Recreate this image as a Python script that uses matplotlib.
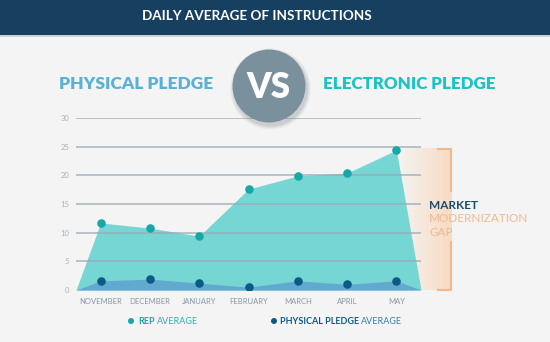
import matplotlib

matplotlib.use("Agg")
import matplotlib.pyplot as plt
import numpy as np
from matplotlib.colors import LinearSegmentedColormap
from matplotlib.patches import Ellipse, Rectangle

plt.rcParams["font.family"] = ["Lato", "DejaVu Sans"]

# 資料(由參考圖讀值)
months = ["NOVEMBER", "DECEMBER", "JANUARY", "FEBRUARY", "MARCH", "APRIL", "MAY"]
rep_avg = [11.7, 10.8, 9.4, 17.6, 19.9, 20.4, 24.4]
physical_avg = [1.6, 1.9, 1.2, 0.5, 1.6, 1.0, 1.6]
y_ticks = [0, 5, 10, 15, 20, 25, 30]

W, H = 550, 342
BG = "#f4f4f4"
NAVY = "#173f5f"
TEAL_AREA = "#76d6d4"
TEAL_DOT = "#16a7a6"
BLUE_AREA = "#62a9d0"
BLUE_DOT = "#0c5a86"
GRID = "#9aabb6"
ORANGE = "#f2b888"


def fx(px):
    return px / W


def fy(py):
    return 1 - py / H


fig = plt.figure(figsize=(W / 100, H / 100), dpi=100, facecolor=BG)

# 標題列
fig.add_artist(Rectangle((0, fy(37)), 1, 37 / H + 0.01, transform=fig.transFigure,
                         facecolor="#cfd2d5", edgecolor="none", zorder=1))
fig.add_artist(Rectangle((0, fy(35)), 1, 35 / H + 0.01, transform=fig.transFigure,
                         facecolor=NAVY, edgecolor="none", zorder=2))
fig.text(fx(257), fy(16), "DAILY AVERAGE OF INSTRUCTIONS", color="white",
         fontsize=9.7, fontweight="bold", ha="center", va="center", zorder=3)

fig.text(fx(136), fy(84), "PHYSICAL PLEDGE", color="#5ab1d6", fontsize=12.5,
         fontweight="heavy", ha="center", va="center")
fig.text(fx(409), fy(84), "ELECTRONIC PLEDGE", color="#1cc3c4", fontsize=12.2,
         fontweight="heavy", ha="center", va="center")

# 圖表本體
ax = fig.add_axes([fx(76), fy(290), fx(421) - fx(76), fy(118) - fy(290)])
ax.set_facecolor("none")
x = np.arange(len(months))
xs = np.concatenate([[-0.5], x, [6.5]])

ax.fill_between(xs, 0, [0] + rep_avg + [0], color=TEAL_AREA, lw=0, zorder=2)
ax.fill_between(xs, 0, [0] + physical_avg + [0], color=BLUE_AREA, lw=0, zorder=3)
for yv in y_ticks[1:]:
    ax.axhline(yv, color=GRID, lw=1.3, alpha=0.75, zorder=4)
ax.scatter(x, rep_avg, s=38, color=TEAL_DOT, zorder=5, lw=0)
ax.scatter(x, physical_avg, s=38, color=BLUE_DOT, zorder=5, lw=0)

# 市場現代化落差(漸層區塊)
grad = np.linspace(0, 1, 100).reshape(1, -1)
ax.imshow(grad, extent=[6.0, 7.13, 0, 24.7], aspect="auto", zorder=1,
          cmap=LinearSegmentedColormap.from_list("gap", [BG, "#f8dbc3"]),
          clip_on=False)

ax.set_xlim(-0.5, 6.5)
ax.set_ylim(0, 30)
ax.set_xticks(x)
ax.set_xticklabels(months)
ax.set_yticks(y_ticks)
ax.tick_params(axis="x", length=0, pad=6, labelsize=5.5, labelcolor="#8597a3")
ax.tick_params(axis="y", length=0, pad=5, labelsize=5.5, labelcolor="#a9b2b8")
for sp in ax.spines.values():
    sp.set_visible(False)

# VS 圓(含柔和陰影)
cx, cy, r = 269, 86, 36.5
for i, a in enumerate([0.05, 0.06, 0.08, 0.1]):
    rr = r + 4 - i
    fig.add_artist(Ellipse((fx(cx + 1.5), fy(cy + 3)), 2 * rr / W, 2 * rr / H,
                           transform=fig.transFigure, facecolor="#5d6a72",
                           alpha=a, edgecolor="none", zorder=5))
fig.add_artist(Ellipse((fx(cx), fy(cy)), 2 * r / W, 2 * r / H, transform=fig.transFigure,
                       facecolor="#7a909c", edgecolor="none", zorder=6))
fig.text(fx(cx), fy(cy + 1), "VS", color="white", fontsize=25, fontweight="heavy",
         ha="center", va="center", zorder=7)

# 括號
bx = 451
fig.add_artist(plt.Line2D([fx(438), fx(bx), fx(bx)], [fy(149), fy(149), fy(191)],
                          color=ORANGE, lw=1.5, transform=fig.transFigure))
fig.add_artist(plt.Line2D([fx(bx), fx(bx), fx(438)], [fy(242), fy(290), fy(290)],
                          color=ORANGE, lw=1.5, transform=fig.transFigure))
fig.text(fx(429), fy(205), "MARKET", color="#1b4a6c", fontsize=8.5,
         fontweight="bold", ha="left", va="center")
fig.text(fx(429), fy(219), "MODERNIZATION", color="#f3b88c", fontsize=8.5,
         ha="left", va="center")
fig.text(fx(429), fy(232), "GAP", color="#f3b88c", fontsize=8.5,
         ha="left", va="center")

# 圖例
fig.add_artist(Ellipse((fx(131), fy(321)), 6 / W, 6 / H, transform=fig.transFigure,
                       facecolor=TEAL_DOT, edgecolor="none"))
fig.text(fx(138), fy(321), "REP", color=TEAL_DOT, fontsize=6.5, fontweight="bold",
         ha="left", va="center")
fig.text(fx(157), fy(321), "AVERAGE", color="#25b3b2", fontsize=6.5,
         ha="left", va="center")
fig.add_artist(Ellipse((fx(274), fy(321)), 6 / W, 6 / H, transform=fig.transFigure,
                       facecolor=BLUE_DOT, edgecolor="none"))
fig.text(fx(280), fy(321), "PHYSICAL PLEDGE", color=BLUE_DOT, fontsize=6.5,
         fontweight="bold", ha="left", va="center")
fig.text(fx(361), fy(321), "AVERAGE", color="#3a7ea6", fontsize=6.5,
         ha="left", va="center")

fig.savefig("out.png", dpi=100, facecolor=BG)
